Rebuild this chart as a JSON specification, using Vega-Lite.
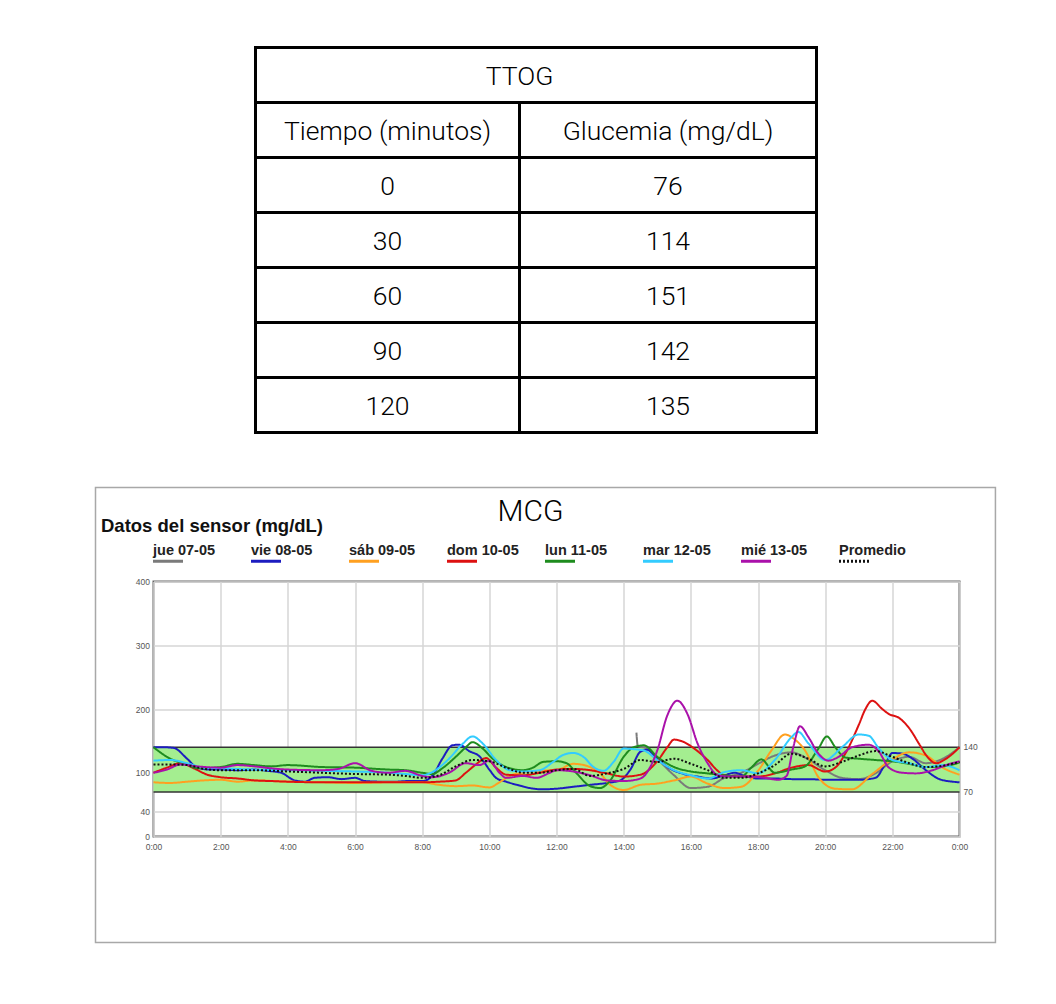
{
  "$schema": "https://vega.github.io/schema/vega-lite/v6.json",
  "background": "white",
  "padding": {"left": 93.5, "top": 45.5, "right": 5, "bottom": 5},
  "spacing": 51,
  "config": {"view": {"stroke": null}, "font": "Liberation Sans"},
  "resolve": {"scale": {"color": "independent", "strokeDash": "independent"}, "legend": {"color": "independent", "strokeDash": "independent"}},
  "datasets": {
    "ttog_titulo": [{"fila": "TTOG"}],
    "ttog_encabezado": [{"fila": "encabezado", "Tiempo": "Tiempo (minutos)", "Glucemia": "Glucemia (mg/dL)"}],
    "ttog": [
      {"fila": "0", "Tiempo": 0, "Glucemia": 76},
      {"fila": "30", "Tiempo": 30, "Glucemia": 114},
      {"fila": "60", "Tiempo": 60, "Glucemia": 151},
      {"fila": "90", "Tiempo": 90, "Glucemia": 142},
      {"fila": "120", "Tiempo": 120, "Glucemia": 135}
    ],
    "objetivo": [{"min": 70, "max": 140}],
    "sensor": [
      {"serie":"jue 07-05","hora":14.38,"glucosa":163},{"serie":"jue 07-05","hora":14.42,"glucosa":142},{"serie":"jue 07-05","hora":14.7,"glucosa":138},{"serie":"jue 07-05","hora":15.0,"glucosa":122},{"serie":"jue 07-05","hora":15.5,"glucosa":96},{"serie":"jue 07-05","hora":16.0,"glucosa":76},{"serie":"jue 07-05","hora":16.5,"glucosa":78},{"serie":"jue 07-05","hora":17.0,"glucosa":92},{"serie":"jue 07-05","hora":17.5,"glucosa":100},{"serie":"jue 07-05","hora":18.0,"glucosa":114},{"serie":"jue 07-05","hora":18.5,"glucosa":127},{"serie":"jue 07-05","hora":19.0,"glucosa":132},{"serie":"jue 07-05","hora":19.5,"glucosa":121},{"serie":"jue 07-05","hora":20.0,"glucosa":104},{"serie":"jue 07-05","hora":20.5,"glucosa":92},{"serie":"jue 07-05","hora":21.0,"glucosa":90},{"serie":"jue 07-05","hora":21.5,"glucosa":99},{"serie":"jue 07-05","hora":22.0,"glucosa":118},{"serie":"jue 07-05","hora":22.5,"glucosa":125},{"serie":"jue 07-05","hora":23.0,"glucosa":115},{"serie":"jue 07-05","hora":23.5,"glucosa":122},{"serie":"jue 07-05","hora":24.0,"glucosa":140},

      {"serie":"vie 08-05","hora":0,"glucosa":140},{"serie":"vie 08-05","hora":0.3,"glucosa":140},{"serie":"vie 08-05","hora":0.6,"glucosa":139},{"serie":"vie 08-05","hora":1.0,"glucosa":122},{"serie":"vie 08-05","hora":1.3,"glucosa":108},{"serie":"vie 08-05","hora":1.7,"glucosa":105},{"serie":"vie 08-05","hora":2.0,"glucosa":105},{"serie":"vie 08-05","hora":2.5,"glucosa":104},{"serie":"vie 08-05","hora":3.0,"glucosa":105},{"serie":"vie 08-05","hora":3.4,"glucosa":103},{"serie":"vie 08-05","hora":3.8,"glucosa":100},{"serie":"vie 08-05","hora":4.2,"glucosa":88},{"serie":"vie 08-05","hora":4.5,"glucosa":86},{"serie":"vie 08-05","hora":4.8,"glucosa":92},{"serie":"vie 08-05","hora":5.2,"glucosa":93},{"serie":"vie 08-05","hora":5.6,"glucosa":90},{"serie":"vie 08-05","hora":6.0,"glucosa":92},{"serie":"vie 08-05","hora":6.3,"glucosa":87},{"serie":"vie 08-05","hora":6.8,"glucosa":86},{"serie":"vie 08-05","hora":7.2,"glucosa":86},{"serie":"vie 08-05","hora":7.6,"glucosa":87},{"serie":"vie 08-05","hora":8.0,"glucosa":87},{"serie":"vie 08-05","hora":8.3,"glucosa":95},{"serie":"vie 08-05","hora":8.6,"glucosa":122},{"serie":"vie 08-05","hora":8.9,"glucosa":143},{"serie":"vie 08-05","hora":9.1,"glucosa":144},{"serie":"vie 08-05","hora":9.4,"glucosa":134},{"serie":"vie 08-05","hora":9.7,"glucosa":126},{"serie":"vie 08-05","hora":10.0,"glucosa":105},{"serie":"vie 08-05","hora":10.2,"glucosa":92},{"serie":"vie 08-05","hora":10.5,"glucosa":86},{"serie":"vie 08-05","hora":10.9,"glucosa":80},{"serie":"vie 08-05","hora":11.2,"glucosa":76},{"serie":"vie 08-05","hora":11.6,"glucosa":74},{"serie":"vie 08-05","hora":12.0,"glucosa":75},{"serie":"vie 08-05","hora":12.5,"glucosa":78},{"serie":"vie 08-05","hora":13.0,"glucosa":81},{"serie":"vie 08-05","hora":13.5,"glucosa":84},{"serie":"vie 08-05","hora":13.9,"glucosa":88},{"serie":"vie 08-05","hora":14.2,"glucosa":105},{"serie":"vie 08-05","hora":14.5,"glucosa":133},{"serie":"vie 08-05","hora":14.7,"glucosa":136},{"serie":"vie 08-05","hora":15.0,"glucosa":122},{"serie":"vie 08-05","hora":15.4,"glucosa":106},{"serie":"vie 08-05","hora":15.8,"glucosa":98},{"serie":"vie 08-05","hora":16.2,"glucosa":94},{"serie":"vie 08-05","hora":16.6,"glucosa":91},{"serie":"vie 08-05","hora":17.0,"glucosa":96},{"serie":"vie 08-05","hora":17.3,"glucosa":100},{"serie":"vie 08-05","hora":17.6,"glucosa":95},{"serie":"vie 08-05","hora":18.0,"glucosa":91},{"serie":"vie 08-05","hora":18.5,"glucosa":91},{"serie":"vie 08-05","hora":19.0,"glucosa":90},{"serie":"vie 08-05","hora":19.5,"glucosa":90},{"serie":"vie 08-05","hora":20.0,"glucosa":89},{"serie":"vie 08-05","hora":20.5,"glucosa":89},{"serie":"vie 08-05","hora":21.0,"glucosa":89},{"serie":"vie 08-05","hora":21.5,"glucosa":92},{"serie":"vie 08-05","hora":21.8,"glucosa":115},{"serie":"vie 08-05","hora":22.0,"glucosa":131},{"serie":"vie 08-05","hora":22.3,"glucosa":130},{"serie":"vie 08-05","hora":22.6,"glucosa":122},{"serie":"vie 08-05","hora":23.0,"glucosa":104},{"serie":"vie 08-05","hora":23.4,"glucosa":90},{"serie":"vie 08-05","hora":23.8,"glucosa":86},{"serie":"vie 08-05","hora":24.0,"glucosa":85},

      {"serie":"sáb 09-05","hora":0,"glucosa":85},{"serie":"sáb 09-05","hora":0.5,"glucosa":84},{"serie":"sáb 09-05","hora":1.0,"glucosa":86},{"serie":"sáb 09-05","hora":1.5,"glucosa":88},{"serie":"sáb 09-05","hora":2.0,"glucosa":89},{"serie":"sáb 09-05","hora":2.5,"glucosa":86},{"serie":"sáb 09-05","hora":3.0,"glucosa":88},{"serie":"sáb 09-05","hora":4.0,"glucosa":86},{"serie":"sáb 09-05","hora":5.0,"glucosa":85},{"serie":"sáb 09-05","hora":6.0,"glucosa":84},{"serie":"sáb 09-05","hora":7.0,"glucosa":85},{"serie":"sáb 09-05","hora":8.0,"glucosa":85},{"serie":"sáb 09-05","hora":8.5,"glucosa":81},{"serie":"sáb 09-05","hora":9.0,"glucosa":79},{"serie":"sáb 09-05","hora":9.5,"glucosa":80},{"serie":"sáb 09-05","hora":10.0,"glucosa":77},{"serie":"sáb 09-05","hora":10.3,"glucosa":85},{"serie":"sáb 09-05","hora":10.6,"glucosa":95},{"serie":"sáb 09-05","hora":11.0,"glucosa":100},{"serie":"sáb 09-05","hora":11.5,"glucosa":103},{"serie":"sáb 09-05","hora":12.0,"glucosa":104},{"serie":"sáb 09-05","hora":12.5,"glucosa":114},{"serie":"sáb 09-05","hora":13.0,"glucosa":109},{"serie":"sáb 09-05","hora":13.3,"glucosa":99},{"serie":"sáb 09-05","hora":13.6,"glucosa":81},{"serie":"sáb 09-05","hora":14.0,"glucosa":73},{"serie":"sáb 09-05","hora":14.5,"glucosa":81},{"serie":"sáb 09-05","hora":15.0,"glucosa":83},{"serie":"sáb 09-05","hora":15.5,"glucosa":88},{"serie":"sáb 09-05","hora":16.0,"glucosa":94},{"serie":"sáb 09-05","hora":16.5,"glucosa":83},{"serie":"sáb 09-05","hora":17.0,"glucosa":76},{"serie":"sáb 09-05","hora":17.5,"glucosa":78},{"serie":"sáb 09-05","hora":18.0,"glucosa":103},{"serie":"sáb 09-05","hora":18.4,"glucosa":135},{"serie":"sáb 09-05","hora":18.8,"glucosa":160},{"serie":"sáb 09-05","hora":19.1,"glucosa":152},{"serie":"sáb 09-05","hora":19.4,"glucosa":135},{"serie":"sáb 09-05","hora":19.8,"glucosa":93},{"serie":"sáb 09-05","hora":20.3,"glucosa":75},{"serie":"sáb 09-05","hora":20.8,"glucosa":74},{"serie":"sáb 09-05","hora":21.4,"glucosa":98},{"serie":"sáb 09-05","hora":22.0,"glucosa":121},{"serie":"sáb 09-05","hora":22.5,"glucosa":132},{"serie":"sáb 09-05","hora":23.0,"glucosa":127},{"serie":"sáb 09-05","hora":23.5,"glucosa":108},{"serie":"sáb 09-05","hora":24.0,"glucosa":97},

      {"serie":"dom 10-05","hora":0,"glucosa":100},{"serie":"dom 10-05","hora":0.4,"glucosa":108},{"serie":"dom 10-05","hora":0.8,"glucosa":115},{"serie":"dom 10-05","hora":1.2,"glucosa":107},{"serie":"dom 10-05","hora":1.6,"glucosa":97},{"serie":"dom 10-05","hora":2.0,"glucosa":93},{"serie":"dom 10-05","hora":2.5,"glucosa":91},{"serie":"dom 10-05","hora":3.0,"glucosa":88},{"serie":"dom 10-05","hora":3.5,"glucosa":87},{"serie":"dom 10-05","hora":4.0,"glucosa":86},{"serie":"dom 10-05","hora":5.0,"glucosa":85},{"serie":"dom 10-05","hora":6.0,"glucosa":85},{"serie":"dom 10-05","hora":7.0,"glucosa":85},{"serie":"dom 10-05","hora":8.0,"glucosa":85},{"serie":"dom 10-05","hora":8.5,"glucosa":86},{"serie":"dom 10-05","hora":9.0,"glucosa":88},{"serie":"dom 10-05","hora":9.3,"glucosa":100},{"serie":"dom 10-05","hora":9.6,"glucosa":113},{"serie":"dom 10-05","hora":9.9,"glucosa":123},{"serie":"dom 10-05","hora":10.2,"glucosa":108},{"serie":"dom 10-05","hora":10.5,"glucosa":97},{"serie":"dom 10-05","hora":11.0,"glucosa":96},{"serie":"dom 10-05","hora":11.5,"glucosa":100},{"serie":"dom 10-05","hora":12.0,"glucosa":105},{"serie":"dom 10-05","hora":12.5,"glucosa":106},{"serie":"dom 10-05","hora":13.0,"glucosa":104},{"serie":"dom 10-05","hora":13.5,"glucosa":99},{"serie":"dom 10-05","hora":14.0,"glucosa":94},{"serie":"dom 10-05","hora":14.5,"glucosa":97},{"serie":"dom 10-05","hora":15.0,"glucosa":118},{"serie":"dom 10-05","hora":15.3,"glucosa":140},{"serie":"dom 10-05","hora":15.5,"glucosa":152},{"serie":"dom 10-05","hora":15.8,"glucosa":148},{"serie":"dom 10-05","hora":16.1,"glucosa":138},{"serie":"dom 10-05","hora":16.5,"glucosa":120},{"serie":"dom 10-05","hora":16.8,"glucosa":103},{"serie":"dom 10-05","hora":17.0,"glucosa":96},{"serie":"dom 10-05","hora":17.5,"glucosa":94},{"serie":"dom 10-05","hora":18.0,"glucosa":94},{"serie":"dom 10-05","hora":18.5,"glucosa":99},{"serie":"dom 10-05","hora":19.0,"glucosa":108},{"serie":"dom 10-05","hora":19.5,"glucosa":112},{"serie":"dom 10-05","hora":20.0,"glucosa":102},{"serie":"dom 10-05","hora":20.3,"glucosa":108},{"serie":"dom 10-05","hora":20.6,"glucosa":130},{"serie":"dom 10-05","hora":21.0,"glucosa":175},{"serie":"dom 10-05","hora":21.2,"glucosa":200},{"serie":"dom 10-05","hora":21.4,"glucosa":213},{"serie":"dom 10-05","hora":21.7,"glucosa":200},{"serie":"dom 10-05","hora":21.9,"glucosa":192},{"serie":"dom 10-05","hora":22.2,"glucosa":186},{"serie":"dom 10-05","hora":22.5,"glucosa":170},{"serie":"dom 10-05","hora":22.8,"glucosa":145},{"serie":"dom 10-05","hora":23.0,"glucosa":128},{"serie":"dom 10-05","hora":23.3,"glucosa":115},{"serie":"dom 10-05","hora":23.6,"glucosa":122},{"serie":"dom 10-05","hora":24.0,"glucosa":140},

      {"serie":"lun 11-05","hora":0,"glucosa":140},{"serie":"lun 11-05","hora":0.5,"glucosa":122},{"serie":"lun 11-05","hora":1.0,"glucosa":113},{"serie":"lun 11-05","hora":1.3,"glucosa":107},{"serie":"lun 11-05","hora":2.0,"glucosa":109},{"serie":"lun 11-05","hora":2.5,"glucosa":114},{"serie":"lun 11-05","hora":3.0,"glucosa":112},{"serie":"lun 11-05","hora":3.5,"glucosa":110},{"serie":"lun 11-05","hora":4.0,"glucosa":112},{"serie":"lun 11-05","hora":5.0,"glucosa":109},{"serie":"lun 11-05","hora":6.0,"glucosa":108},{"serie":"lun 11-05","hora":7.0,"glucosa":105},{"serie":"lun 11-05","hora":7.5,"glucosa":104},{"serie":"lun 11-05","hora":8.0,"glucosa":100},{"serie":"lun 11-05","hora":8.3,"glucosa":98},{"serie":"lun 11-05","hora":8.6,"glucosa":107},{"serie":"lun 11-05","hora":9.0,"glucosa":125},{"serie":"lun 11-05","hora":9.3,"glucosa":140},{"serie":"lun 11-05","hora":9.5,"glucosa":148},{"serie":"lun 11-05","hora":9.8,"glucosa":138},{"serie":"lun 11-05","hora":10.1,"glucosa":122},{"serie":"lun 11-05","hora":10.5,"glucosa":109},{"serie":"lun 11-05","hora":11.0,"glucosa":104},{"serie":"lun 11-05","hora":11.3,"glucosa":108},{"serie":"lun 11-05","hora":11.6,"glucosa":117},{"serie":"lun 11-05","hora":12.0,"glucosa":118},{"serie":"lun 11-05","hora":12.3,"glucosa":115},{"serie":"lun 11-05","hora":12.6,"glucosa":99},{"serie":"lun 11-05","hora":13.0,"glucosa":79},{"serie":"lun 11-05","hora":13.3,"glucosa":76},{"serie":"lun 11-05","hora":13.6,"glucosa":88},{"serie":"lun 11-05","hora":14.0,"glucosa":125},{"serie":"lun 11-05","hora":14.3,"glucosa":140},{"serie":"lun 11-05","hora":14.6,"glucosa":143},{"serie":"lun 11-05","hora":15.0,"glucosa":125},{"serie":"lun 11-05","hora":15.5,"glucosa":109},{"serie":"lun 11-05","hora":16.0,"glucosa":102},{"serie":"lun 11-05","hora":16.5,"glucosa":99},{"serie":"lun 11-05","hora":17.0,"glucosa":96},{"serie":"lun 11-05","hora":17.5,"glucosa":94},{"serie":"lun 11-05","hora":17.8,"glucosa":108},{"serie":"lun 11-05","hora":18.1,"glucosa":121},{"serie":"lun 11-05","hora":18.5,"glucosa":100},{"serie":"lun 11-05","hora":19.0,"glucosa":105},{"serie":"lun 11-05","hora":19.4,"glucosa":110},{"serie":"lun 11-05","hora":19.8,"glucosa":138},{"serie":"lun 11-05","hora":20.05,"glucosa":157},{"serie":"lun 11-05","hora":20.3,"glucosa":140},{"serie":"lun 11-05","hora":20.6,"glucosa":124},{"serie":"lun 11-05","hora":21.0,"glucosa":122},{"serie":"lun 11-05","hora":21.5,"glucosa":120},{"serie":"lun 11-05","hora":22.0,"glucosa":118},{"serie":"lun 11-05","hora":22.5,"glucosa":114},{"serie":"lun 11-05","hora":23.0,"glucosa":109},{"serie":"lun 11-05","hora":23.5,"glucosa":110},{"serie":"lun 11-05","hora":24.0,"glucosa":116},

      {"serie":"mar 12-05","hora":0,"glucosa":119},{"serie":"mar 12-05","hora":0.5,"glucosa":120},{"serie":"mar 12-05","hora":1.0,"glucosa":115},{"serie":"mar 12-05","hora":1.5,"glucosa":108},{"serie":"mar 12-05","hora":2.0,"glucosa":107},{"serie":"mar 12-05","hora":3.0,"glucosa":105},{"serie":"mar 12-05","hora":4.0,"glucosa":104},{"serie":"mar 12-05","hora":5.0,"glucosa":103},{"serie":"mar 12-05","hora":6.0,"glucosa":102},{"serie":"mar 12-05","hora":7.0,"glucosa":100},{"serie":"mar 12-05","hora":7.5,"glucosa":98},{"serie":"mar 12-05","hora":8.0,"glucosa":96},{"serie":"mar 12-05","hora":8.3,"glucosa":101},{"serie":"mar 12-05","hora":8.8,"glucosa":122},{"serie":"mar 12-05","hora":9.2,"glucosa":145},{"serie":"mar 12-05","hora":9.5,"glucosa":157},{"serie":"mar 12-05","hora":9.8,"glucosa":146},{"serie":"mar 12-05","hora":10.2,"glucosa":120},{"serie":"mar 12-05","hora":10.6,"glucosa":104},{"serie":"mar 12-05","hora":11.0,"glucosa":102},{"serie":"mar 12-05","hora":11.5,"glucosa":104},{"serie":"mar 12-05","hora":11.9,"glucosa":117},{"serie":"mar 12-05","hora":12.2,"glucosa":128},{"serie":"mar 12-05","hora":12.5,"glucosa":131},{"serie":"mar 12-05","hora":12.8,"glucosa":125},{"serie":"mar 12-05","hora":13.1,"glucosa":109},{"serie":"mar 12-05","hora":13.4,"glucosa":103},{"serie":"mar 12-05","hora":13.7,"glucosa":117},{"serie":"mar 12-05","hora":14.0,"glucosa":138},{"serie":"mar 12-05","hora":14.3,"glucosa":137},{"serie":"mar 12-05","hora":14.6,"glucosa":135},{"serie":"mar 12-05","hora":15.0,"glucosa":120},{"serie":"mar 12-05","hora":15.5,"glucosa":104},{"serie":"mar 12-05","hora":16.0,"glucosa":96},{"serie":"mar 12-05","hora":16.5,"glucosa":91},{"serie":"mar 12-05","hora":17.0,"glucosa":101},{"serie":"mar 12-05","hora":17.5,"glucosa":104},{"serie":"mar 12-05","hora":18.0,"glucosa":99},{"serie":"mar 12-05","hora":18.5,"glucosa":120},{"serie":"mar 12-05","hora":19.0,"glucosa":156},{"serie":"mar 12-05","hora":19.2,"glucosa":164},{"serie":"mar 12-05","hora":19.5,"glucosa":146},{"serie":"mar 12-05","hora":20.0,"glucosa":120},{"serie":"mar 12-05","hora":20.5,"glucosa":140},{"serie":"mar 12-05","hora":21.0,"glucosa":160},{"serie":"mar 12-05","hora":21.3,"glucosa":158},{"serie":"mar 12-05","hora":21.6,"glucosa":138},{"serie":"mar 12-05","hora":22.0,"glucosa":120},{"serie":"mar 12-05","hora":22.5,"glucosa":115},{"serie":"mar 12-05","hora":23.0,"glucosa":109},{"serie":"mar 12-05","hora":23.5,"glucosa":112},{"serie":"mar 12-05","hora":24.0,"glucosa":104},

      {"serie":"mié 13-05","hora":0,"glucosa":100},{"serie":"mié 13-05","hora":0.4,"glucosa":105},{"serie":"mié 13-05","hora":0.8,"glucosa":113},{"serie":"mié 13-05","hora":1.3,"glucosa":110},{"serie":"mié 13-05","hora":2.0,"glucosa":108},{"serie":"mié 13-05","hora":2.5,"glucosa":112},{"serie":"mié 13-05","hora":3.0,"glucosa":110},{"serie":"mié 13-05","hora":3.5,"glucosa":107},{"serie":"mié 13-05","hora":4.0,"glucosa":105},{"serie":"mié 13-05","hora":5.0,"glucosa":104},{"serie":"mié 13-05","hora":5.5,"glucosa":106},{"serie":"mié 13-05","hora":6.0,"glucosa":115},{"serie":"mié 13-05","hora":6.5,"glucosa":103},{"serie":"mié 13-05","hora":7.0,"glucosa":100},{"serie":"mié 13-05","hora":7.5,"glucosa":103},{"serie":"mié 13-05","hora":8.0,"glucosa":95},{"serie":"mié 13-05","hora":8.3,"glucosa":93},{"serie":"mié 13-05","hora":8.8,"glucosa":100},{"serie":"mié 13-05","hora":9.3,"glucosa":115},{"serie":"mié 13-05","hora":9.7,"glucosa":112},{"serie":"mié 13-05","hora":10.0,"glucosa":119},{"serie":"mié 13-05","hora":10.3,"glucosa":100},{"serie":"mié 13-05","hora":10.5,"glucosa":92},{"serie":"mié 13-05","hora":11.0,"glucosa":95},{"serie":"mié 13-05","hora":11.4,"glucosa":92},{"serie":"mié 13-05","hora":11.8,"glucosa":100},{"serie":"mié 13-05","hora":12.0,"glucosa":104},{"serie":"mié 13-05","hora":12.5,"glucosa":102},{"serie":"mié 13-05","hora":13.0,"glucosa":96},{"serie":"mié 13-05","hora":13.5,"glucosa":88},{"serie":"mié 13-05","hora":14.0,"glucosa":87},{"serie":"mié 13-05","hora":14.5,"glucosa":91},{"serie":"mié 13-05","hora":14.8,"glucosa":110},{"serie":"mié 13-05","hora":15.0,"glucosa":135},{"serie":"mié 13-05","hora":15.3,"glucosa":190},{"serie":"mié 13-05","hora":15.6,"glucosa":213},{"serie":"mié 13-05","hora":15.9,"glucosa":192},{"serie":"mié 13-05","hora":16.2,"glucosa":146},{"serie":"mié 13-05","hora":16.5,"glucosa":115},{"serie":"mié 13-05","hora":16.8,"glucosa":96},{"serie":"mié 13-05","hora":17.2,"glucosa":94},{"serie":"mié 13-05","hora":17.8,"glucosa":94},{"serie":"mié 13-05","hora":18.2,"glucosa":92},{"serie":"mié 13-05","hora":18.6,"glucosa":89},{"serie":"mié 13-05","hora":18.85,"glucosa":95},{"serie":"mié 13-05","hora":19.05,"glucosa":140},{"serie":"mié 13-05","hora":19.25,"glucosa":173},{"serie":"mié 13-05","hora":19.5,"glucosa":156},{"serie":"mié 13-05","hora":19.8,"glucosa":130},{"serie":"mié 13-05","hora":20.1,"glucosa":119},{"serie":"mié 13-05","hora":20.4,"glucosa":125},{"serie":"mié 13-05","hora":20.8,"glucosa":140},{"serie":"mié 13-05","hora":21.3,"glucosa":144},{"serie":"mié 13-05","hora":21.6,"glucosa":133},{"serie":"mié 13-05","hora":21.9,"glucosa":108},{"serie":"mié 13-05","hora":22.3,"glucosa":100},{"serie":"mié 13-05","hora":22.7,"glucosa":99},{"serie":"mié 13-05","hora":23.2,"glucosa":104},{"serie":"mié 13-05","hora":23.6,"glucosa":112},{"serie":"mié 13-05","hora":24.0,"glucosa":118},

      {"serie":"Promedio","hora":0,"glucosa":113},{"serie":"Promedio","hora":0.5,"glucosa":113},{"serie":"Promedio","hora":1.0,"glucosa":112},{"serie":"Promedio","hora":1.5,"glucosa":106},{"serie":"Promedio","hora":2.0,"glucosa":104},{"serie":"Promedio","hora":3.0,"glucosa":104},{"serie":"Promedio","hora":4.0,"glucosa":102},{"serie":"Promedio","hora":5.0,"glucosa":100},{"serie":"Promedio","hora":6.0,"glucosa":98},{"serie":"Promedio","hora":7.0,"glucosa":97},{"serie":"Promedio","hora":7.5,"glucosa":95},{"serie":"Promedio","hora":8.0,"glucosa":92},{"serie":"Promedio","hora":8.5,"glucosa":96},{"serie":"Promedio","hora":9.0,"glucosa":110},{"serie":"Promedio","hora":9.5,"glucosa":120},{"serie":"Promedio","hora":10.0,"glucosa":118},{"serie":"Promedio","hora":10.5,"glucosa":108},{"serie":"Promedio","hora":11.0,"glucosa":100},{"serie":"Promedio","hora":11.5,"glucosa":100},{"serie":"Promedio","hora":12.0,"glucosa":104},{"serie":"Promedio","hora":12.5,"glucosa":106},{"serie":"Promedio","hora":13.0,"glucosa":95},{"serie":"Promedio","hora":13.5,"glucosa":99},{"serie":"Promedio","hora":14.0,"glucosa":106},{"serie":"Promedio","hora":14.5,"glucosa":120},{"serie":"Promedio","hora":15.0,"glucosa":117},{"serie":"Promedio","hora":15.5,"glucosa":122},{"serie":"Promedio","hora":16.0,"glucosa":114},{"serie":"Promedio","hora":16.5,"glucosa":104},{"serie":"Promedio","hora":17.0,"glucosa":92},{"serie":"Promedio","hora":17.5,"glucosa":92},{"serie":"Promedio","hora":18.0,"glucosa":99},{"serie":"Promedio","hora":18.5,"glucosa":112},{"serie":"Promedio","hora":19.0,"glucosa":130},{"serie":"Promedio","hora":19.5,"glucosa":122},{"serie":"Promedio","hora":20.0,"glucosa":110},{"serie":"Promedio","hora":20.5,"glucosa":117},{"serie":"Promedio","hora":21.0,"glucosa":127},{"serie":"Promedio","hora":21.5,"glucosa":134},{"serie":"Promedio","hora":22.0,"glucosa":125},{"serie":"Promedio","hora":22.5,"glucosa":115},{"serie":"Promedio","hora":23.0,"glucosa":109},{"serie":"Promedio","hora":23.5,"glucosa":111},{"serie":"Promedio","hora":24.0,"glucosa":117}
    ]
  },
  "vconcat": [
    {
      "width": 663,
      "height": 385,
      "view": {"stroke": null},
      "layer": [
        {
          "data": {"name": "ttog_titulo"},
          "mark": {"type": "rect", "filled": false, "stroke": "black", "strokeWidth": 3},
          "encoding": {
            "x": {"datum": 0, "type": "quantitative", "scale": {"domain": [0, 1, 2], "range": [102, 366, 663], "zero": false, "nice": false}, "axis": null},
            "x2": {"datum": 2},
            "y": {"field": "fila", "type": "nominal", "scale": {"type": "band", "domain": ["TTOG", "encabezado", "0", "30", "60", "90", "120"], "paddingInner": 0, "paddingOuter": 0}, "axis": null}
          }
        },
        {
          "data": {"name": "ttog_titulo"},
          "mark": {"type": "text", "font": "Roboto", "fontWeight": 300, "fontSize": 26.5, "color": "black", "baseline": "middle", "dy": 2},
          "encoding": {
            "x": {"datum": 1, "type": "quantitative", "scale": {"domain": [0, 1, 2], "range": [102, 366, 663], "zero": false, "nice": false}, "axis": null},
            "y": {"field": "fila", "type": "nominal", "scale": {"type": "band", "domain": ["TTOG", "encabezado", "0", "30", "60", "90", "120"], "paddingInner": 0, "paddingOuter": 0}, "axis": null},
            "text": {"field": "fila"}
          }
        },
        {
          "data": {"name": "ttog_encabezado"},
          "mark": {"type": "rect", "filled": false, "stroke": "black", "strokeWidth": 3},
          "encoding": {
            "x": {"datum": 0, "type": "quantitative", "scale": {"domain": [0, 1, 2], "range": [102, 366, 663], "zero": false, "nice": false}, "axis": null},
            "x2": {"datum": 1},
            "y": {"field": "fila", "type": "nominal", "scale": {"type": "band", "domain": ["TTOG", "encabezado", "0", "30", "60", "90", "120"], "paddingInner": 0, "paddingOuter": 0}, "axis": null}
          }
        },
        {
          "data": {"name": "ttog_encabezado"},
          "mark": {"type": "rect", "filled": false, "stroke": "black", "strokeWidth": 3},
          "encoding": {
            "x": {"datum": 1, "type": "quantitative", "scale": {"domain": [0, 1, 2], "range": [102, 366, 663], "zero": false, "nice": false}, "axis": null},
            "x2": {"datum": 2},
            "y": {"field": "fila", "type": "nominal", "scale": {"type": "band", "domain": ["TTOG", "encabezado", "0", "30", "60", "90", "120"], "paddingInner": 0, "paddingOuter": 0}, "axis": null}
          }
        },
        {
          "data": {"name": "ttog_encabezado"},
          "mark": {"type": "text", "font": "Roboto", "fontWeight": 300, "fontSize": 26.5, "color": "black", "baseline": "middle", "dy": 2},
          "encoding": {
            "x": {"datum": 0.5, "type": "quantitative", "scale": {"domain": [0, 1, 2], "range": [102, 366, 663], "zero": false, "nice": false}, "axis": null},
            "y": {"field": "fila", "type": "nominal", "scale": {"type": "band", "domain": ["TTOG", "encabezado", "0", "30", "60", "90", "120"], "paddingInner": 0, "paddingOuter": 0}, "axis": null},
            "text": {"field": "Tiempo"}
          }
        },
        {
          "data": {"name": "ttog_encabezado"},
          "mark": {"type": "text", "font": "Roboto", "fontWeight": 300, "fontSize": 26.5, "color": "black", "baseline": "middle", "dy": 2},
          "encoding": {
            "x": {"datum": 1.5, "type": "quantitative", "scale": {"domain": [0, 1, 2], "range": [102, 366, 663], "zero": false, "nice": false}, "axis": null},
            "y": {"field": "fila", "type": "nominal", "scale": {"type": "band", "domain": ["TTOG", "encabezado", "0", "30", "60", "90", "120"], "paddingInner": 0, "paddingOuter": 0}, "axis": null},
            "text": {"field": "Glucemia"}
          }
        },
        {
          "data": {"name": "ttog"},
          "mark": {"type": "rect", "filled": false, "stroke": "black", "strokeWidth": 3},
          "encoding": {
            "x": {"datum": 0, "type": "quantitative", "scale": {"domain": [0, 1, 2], "range": [102, 366, 663], "zero": false, "nice": false}, "axis": null},
            "x2": {"datum": 1},
            "y": {"field": "fila", "type": "nominal", "scale": {"type": "band", "domain": ["TTOG", "encabezado", "0", "30", "60", "90", "120"], "paddingInner": 0, "paddingOuter": 0}, "axis": null}
          }
        },
        {
          "data": {"name": "ttog"},
          "mark": {"type": "rect", "filled": false, "stroke": "black", "strokeWidth": 3},
          "encoding": {
            "x": {"datum": 1, "type": "quantitative", "scale": {"domain": [0, 1, 2], "range": [102, 366, 663], "zero": false, "nice": false}, "axis": null},
            "x2": {"datum": 2},
            "y": {"field": "fila", "type": "nominal", "scale": {"type": "band", "domain": ["TTOG", "encabezado", "0", "30", "60", "90", "120"], "paddingInner": 0, "paddingOuter": 0}, "axis": null}
          }
        },
        {
          "data": {"name": "ttog"},
          "mark": {"type": "text", "font": "Roboto", "fontWeight": 300, "fontSize": 26.5, "color": "black", "baseline": "middle", "dy": 2},
          "encoding": {
            "x": {"datum": 0.5, "type": "quantitative", "scale": {"domain": [0, 1, 2], "range": [102, 366, 663], "zero": false, "nice": false}, "axis": null},
            "y": {"field": "fila", "type": "nominal", "scale": {"type": "band", "domain": ["TTOG", "encabezado", "0", "30", "60", "90", "120"], "paddingInner": 0, "paddingOuter": 0}, "axis": null},
            "text": {"field": "Tiempo", "type": "quantitative"}
          }
        },
        {
          "data": {"name": "ttog"},
          "mark": {"type": "text", "font": "Roboto", "fontWeight": 300, "fontSize": 26.5, "color": "black", "baseline": "middle", "dy": 2},
          "encoding": {
            "x": {"datum": 1.5, "type": "quantitative", "scale": {"domain": [0, 1, 2], "range": [102, 366, 663], "zero": false, "nice": false}, "axis": null},
            "y": {"field": "fila", "type": "nominal", "scale": {"type": "band", "domain": ["TTOG", "encabezado", "0", "30", "60", "90", "120"], "paddingInner": 0, "paddingOuter": 0}, "axis": null},
            "text": {"field": "Glucemia", "type": "quantitative"}
          }
        }
      ]
    },
    {
      "width": 806,
      "height": 255,
      "view": {"stroke": "#666666", "strokeWidth": 2},
      "title": {"text": "MCG", "font": "Roboto", "fontWeight": 300, "fontSize": 30, "color": "black", "anchor": "middle", "frame": "group", "dx": -26, "offset": -40},
      "layer": [
        {
          "data": {"name": "objetivo"},
          "mark": {"type": "rect", "filled": false, "stroke": "#a8a8a8", "strokeWidth": 1.5},
          "encoding": {
            "x": {"datum": -1.727, "type": "quantitative", "scale": {"domain": [0, 24], "nice": false, "zero": false}, "title": null},
            "x2": {"datum": 25.07},
            "y": {"datum": 547.5, "type": "quantitative", "scale": {"domain": [0, 400], "nice": false}},
            "y2": {"datum": -166.3}
          }
        },
        {
          "data": {"name": "objetivo"},
          "mark": {"type": "rect", "fill": "#a4ee90"},
          "encoding": {
            "x": {"datum": 0, "type": "quantitative", "scale": {"domain": [0, 24], "nice": false, "zero": false}, "title": null},
            "x2": {"datum": 24},
            "y": {"field": "min", "type": "quantitative", "scale": {"domain": [0, 400], "nice": false}},
            "y2": {"field": "max"}
          }
        },
        {
          "data": {"name": "objetivo"},
          "transform": [{"fold": ["min", "max"], "as": ["limite", "valor"]}],
          "mark": {"type": "rule", "stroke": "#333333", "strokeWidth": 1.5},
          "encoding": {
            "x": {"datum": 0, "type": "quantitative", "scale": {"domain": [0, 24], "nice": false, "zero": false}, "title": null},
            "x2": {"datum": 24},
            "y": {"field": "valor", "type": "quantitative", "scale": {"domain": [0, 400], "nice": false}}
          }
        },
        {
          "data": {"name": "objetivo"},
          "transform": [{"fold": ["min", "max"], "as": ["limite", "valor"]}],
          "mark": {"type": "text", "align": "left", "baseline": "middle", "dx": 4, "fontSize": 8.5, "color": "#555555", "font": "Liberation Sans"},
          "encoding": {
            "x": {"datum": 24, "type": "quantitative", "scale": {"domain": [0, 24], "nice": false, "zero": false}, "title": null},
            "y": {"field": "valor", "type": "quantitative", "scale": {"domain": [0, 400], "nice": false}},
            "text": {"field": "valor", "type": "quantitative"}
          }
        },
        {
          "data": {"name": "sensor"},
          "mark": {"type": "line", "strokeWidth": 2, "interpolate": "monotone"},
          "encoding": {
            "x": {
              "field": "hora", "type": "quantitative",
              "scale": {"domain": [0, 24], "nice": false, "zero": false},
              "title": null,
              "axis": {"values": [0, 2, 4, 6, 8, 10, 12, 14, 16, 18, 20, 22, 24], "labelExpr": "(datum.value % 24) + ':00'", "grid": true, "gridColor": "#d6d6d6", "gridWidth": 1.5, "ticks": false, "domain": false, "labelFontSize": 8.5, "labelColor": "#555555", "labelFont": "Liberation Sans", "labelPadding": 6, "labelFlush": false, "labelOverlap": false, "title": null}
            },
            "y": {
              "field": "glucosa", "type": "quantitative",
              "scale": {"domain": [0, 400], "nice": false},
              "title": "Datos del sensor (mg/dL)",
              "axis": {"values": [0, 40, 100, 200, 300, 400], "grid": true, "gridColor": "#d6d6d6", "gridWidth": 1.5, "ticks": false, "domain": false, "labelFontSize": 8.5, "labelColor": "#555555", "labelFont": "Liberation Sans", "labelPadding": 4, "labelOverlap": false, "labelFlush": false, "title": "Datos del sensor (mg/dL)", "titleAngle": 0, "titleAlign": "left", "titleBaseline": "alphabetic", "titleX": -53, "titleY": -50, "titleFont": "Liberation Sans", "titleFontSize": 18.5, "titleFontWeight": "bold", "titleColor": "#111111"}
            },
            "color": {
              "field": "serie", "type": "nominal",
              "scale": {"domain": ["jue 07-05", "vie 08-05", "sáb 09-05", "dom 10-05", "lun 11-05", "mar 12-05", "mié 13-05", "Promedio"], "range": ["#7a7a7a", "#1c1cc0", "#ffa020", "#dd1111", "#1e8c1e", "#33ccff", "#aa11aa", "#111111"]},
              "legend": {"orient": "none", "legendX": -2, "legendY": -47, "direction": "horizontal", "columns": 8, "title": null, "symbolType": "M-1,0.67H1", "symbolSize": 900, "symbolStrokeWidth": 3, "labelOffset": -31.5, "labelFont": "Liberation Sans", "labelFontWeight": "bold", "labelFontSize": 14.5, "labelColor": "#222222", "labelBaseline": "middle", "gridAlign": "all", "columnPadding": 19, "padding": 0}
            },
            "strokeDash": {
              "field": "serie", "type": "nominal",
              "scale": {"domain": ["jue 07-05", "vie 08-05", "sáb 09-05", "dom 10-05", "lun 11-05", "mar 12-05", "mié 13-05", "Promedio"], "range": [[1, 0], [1, 0], [1, 0], [1, 0], [1, 0], [1, 0], [1, 0], [2, 2]]},
              "legend": {"orient": "none", "legendX": -2, "legendY": -47, "direction": "horizontal", "columns": 8, "title": null, "symbolType": "M-1,0.67H1", "symbolSize": 900, "symbolStrokeWidth": 3, "labelOffset": -31.5, "labelFont": "Liberation Sans", "labelFontWeight": "bold", "labelFontSize": 14.5, "labelColor": "#222222", "labelBaseline": "middle", "gridAlign": "all", "columnPadding": 19, "padding": 0}
            }
          }
        }
      ]
    }
  ]
}
